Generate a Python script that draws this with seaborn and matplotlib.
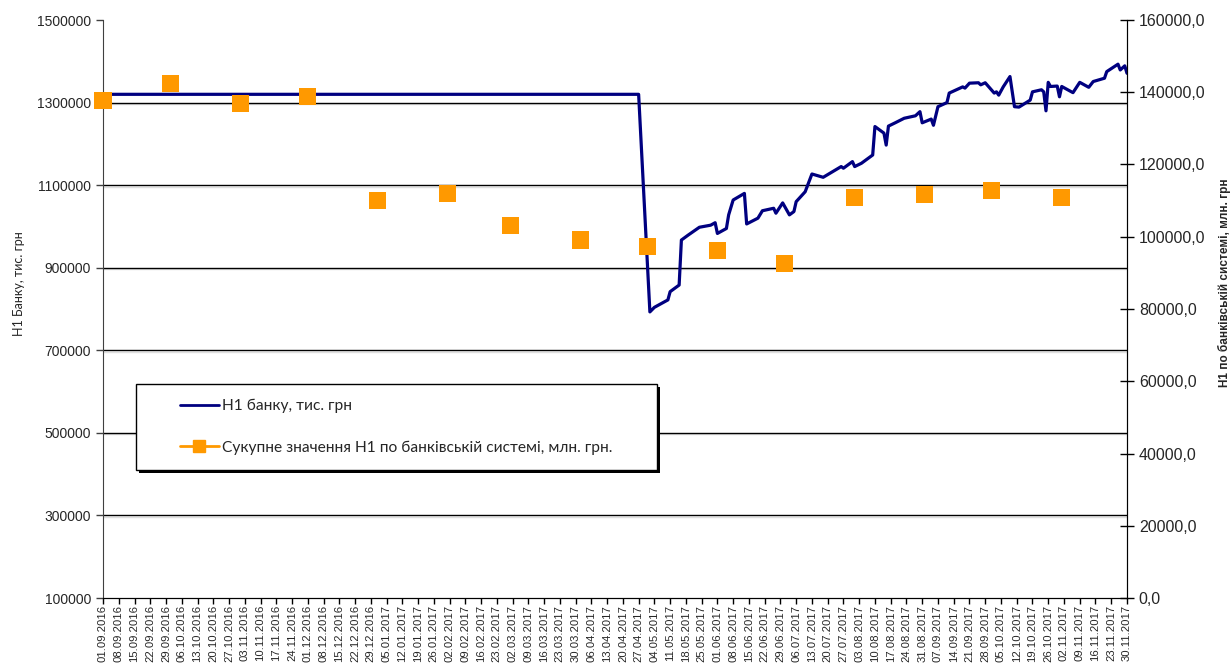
import pandas as pd
import matplotlib.pyplot as plt
import matplotlib.dates as mdates
import matplotlib.patheffects as pe
from matplotlib.lines import Line2D
from matplotlib.patches import Rectangle
from matplotlib.ticker import FuncFormatter
import seaborn as sns

# H1 of the bank, thousand UAH (daily observations)
line_dates = ["2016-09-01", "2017-04-27", "2017-05-02", "2017-05-04", "2017-05-10", "2017-05-11",
              "2017-05-15", "2017-05-16", "2017-05-19", "2017-05-24", "2017-05-29", "2017-05-31",
              "2017-06-01", "2017-06-05", "2017-06-06", "2017-06-08", "2017-06-13", "2017-06-14",
              "2017-06-19", "2017-06-21", "2017-06-26", "2017-06-27", "2017-06-30", "2017-07-03",
              "2017-07-05", "2017-07-06", "2017-07-10", "2017-07-13", "2017-07-18", "2017-07-26",
              "2017-07-27", "2017-07-31", "2017-08-01", "2017-08-04", "2017-08-09", "2017-08-10",
              "2017-08-14", "2017-08-15", "2017-08-16", "2017-08-19", "2017-08-23", "2017-08-28",
              "2017-08-30", "2017-08-31", "2017-09-04", "2017-09-05", "2017-09-07", "2017-09-11",
              "2017-09-12", "2017-09-18", "2017-09-19", "2017-09-21", "2017-09-25", "2017-09-26",
              "2017-09-28", "2017-10-02", "2017-10-03", "2017-10-04", "2017-10-06", "2017-10-09",
              "2017-10-11", "2017-10-13", "2017-10-18", "2017-10-19", "2017-10-23", "2017-10-24",
              "2017-10-25", "2017-10-26", "2017-10-27", "2017-10-30", "2017-10-31", "2017-11-01",
              "2017-11-06", "2017-11-09", "2017-11-13", "2017-11-15", "2017-11-20", "2017-11-21",
              "2017-11-26", "2017-11-27", "2017-11-29", "2017-11-30"]
line_values = [1320000, 1320000, 793000, 804000, 822000, 842000,
               858000, 967000, 979000, 998000, 1003000, 1009000,
               983000, 995000, 1028000, 1064000, 1080000, 1006000,
               1020000, 1038000, 1044000, 1032000, 1057000, 1028000,
               1036000, 1060000, 1084000, 1127000, 1119000, 1145000,
               1141000, 1157000, 1145000, 1153000, 1173000, 1242000,
               1226000, 1197000, 1243000, 1251000, 1262000, 1268000,
               1278000, 1251000, 1260000, 1245000, 1290000, 1300000,
               1323000, 1338000, 1335000, 1347000, 1348000, 1343000,
               1348000, 1323000, 1326000, 1318000, 1338000, 1363000,
               1290000, 1289000, 1306000, 1326000, 1331000, 1326000,
               1280000, 1349000, 1339000, 1340000, 1314000, 1339000,
               1324000, 1349000, 1337000, 1351000, 1359000, 1375000,
               1393000, 1379000, 1389000, 1371000]

# total H1 of the banking system, million UAH (monthly)
sys_dates = ["2016-09-01", "2016-10-01", "2016-11-01", "2016-12-01", "2017-01-01",
             "2017-02-01", "2017-03-01", "2017-04-01", "2017-05-01", "2017-06-01",
             "2017-07-01", "2017-08-01", "2017-09-01", "2017-10-01", "2017-11-01"]
sys_values = [137600, 142300, 137000, 138700, 109900,
              112100, 103000, 99100, 97400, 96300,
              92700, 111000, 111600, 112900, 111000]

label_bank = "Н1 банку, тис. грн"
label_sys = "Сукупне значення Н1 по банківській системі, млн. грн."

navy = "#000080"
orange = "#FF9900"

sns.set_style("white")
plt.rcParams['font.family'] = ['Liberation Sans', 'DejaVu Sans']

fig = plt.figure(figsize=(12.31, 6.70), dpi=100)
ax = fig.add_axes([103 / 1231, 1 - 598 / 670, 1024 / 1231, 578 / 670])
ax2 = ax.twinx()

sns.lineplot(x=pd.to_datetime(line_dates), y=line_values, ax=ax, color=navy, linewidth=2.3)
sns.scatterplot(x=pd.to_datetime(sys_dates), y=sys_values, ax=ax2, color=orange, marker='s',
                s=150, edgecolor='none', clip_on=False, zorder=5)
ax.set_xlabel("")
ax2.set_xlabel("")

# x axis: weekly ticks
start, end = pd.Timestamp("2016-09-01"), pd.Timestamp("2017-11-30")
ax.set_xlim(start, end)
ax.set_xticks(pd.date_range(start, end, freq="7D"))
ax.xaxis.set_major_formatter(mdates.DateFormatter("%d.%m.%Y"))
ax.tick_params(axis='x', rotation=90, labelsize=8.1, direction='out', length=4, width=1,
               color='black', bottom=True, pad=1)

# left axis
ax.set_ylim(100000, 1500000)
ax.set_yticks(range(100000, 1500001, 200000))
ax.yaxis.set_major_formatter(FuncFormatter(lambda v, p: f"{int(v)}"))
ax.tick_params(axis='y', labelsize=10, direction='out', length=5, width=1, color='#404040', left=True)
ax.set_ylabel("")
for y in range(300000, 1300001, 200000):
    ax.axhline(y, color='black', linewidth=1, zorder=0.5,
               path_effects=[pe.SimpleLineShadow(offset=(0, -1.0), shadow_color='grey', alpha=0.25),
                             pe.Normal()])

# right axis
ax2.set_ylim(0, 160000)
ax2.set_yticks(range(0, 160001, 20000))
ax2.set_yticklabels([f"{v},0" for v in range(0, 160001, 20000)])
ax2.tick_params(axis='y', labelsize=11.5, direction='inout', length=10, width=1, color='black', right=True)
ax2.set_ylabel("")

for a in (ax, ax2):
    a.spines['top'].set_visible(False)
    a.spines['bottom'].set_color('black')
ax.spines['left'].set_color('#404040')
ax2.spines['right'].set_color('black')
ax2.spines['left'].set_visible(False)

fig.text(0.0154, 0.576, "Н1 Банку, тис. грн", rotation=90, ha='center', va='center',
         fontsize=9, family=['Lato', 'DejaVu Sans'])
fig.text(0.9945, 0.578, "Н1 по банківській системі, млн. грн", rotation=90, ha='center',
         va='center', fontsize=8.5, fontweight='bold')

# legend box with shadow
bx, by, bw, bh = 33 / 1024, 128 / 578, 521 / 1024, 86 / 578
ax2.add_patch(Rectangle((bx + 3 / 1024, by - 3 / 578), bw, bh, transform=ax2.transAxes,
                        facecolor='black', edgecolor='none', zorder=9))
ax2.add_patch(Rectangle((bx, by), bw, bh, transform=ax2.transAxes,
                        facecolor='white', edgecolor='black', linewidth=1, zorder=10))
handles = [Line2D([], [], color=navy, linewidth=2),
           Line2D([], [], color=orange, linewidth=2, marker='s', markersize=9)]
leg = ax2.legend(handles, [label_bank, label_sys], loc='upper left',
                 bbox_to_anchor=(77 / 1024, (598 - 399) / 578), frameon=False,
                 borderpad=0, borderaxespad=0, handlelength=2.5, handletextpad=0.2,
                 labelspacing=1.75, prop={'family': ['Lato', 'DejaVu Sans'], 'size': 11.2})
leg.set_zorder(11)

fig.savefig("out.png", dpi=100)
